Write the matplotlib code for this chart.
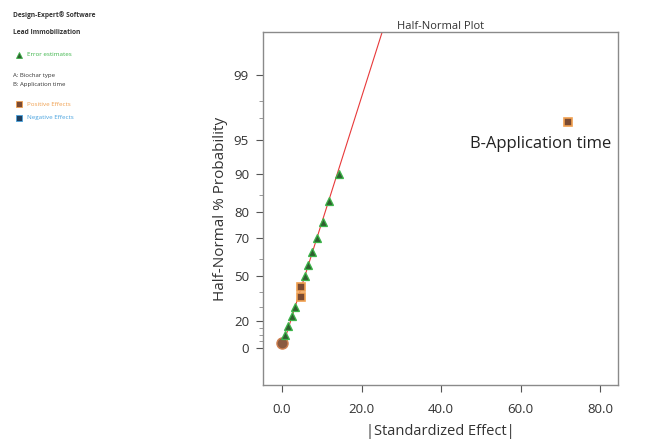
from statistics import NormalDist

import matplotlib
matplotlib.use("Agg")
import matplotlib.pyplot as plt

plt.rcParams["font.family"] = ["Open Sans", "DejaVu Sans"]

# |effect| values, sorted ascending (rank 1 .. 15)
effects = [0.0, 0.75, 1.6, 2.4, 3.3, 4.7, 4.8, 5.8, 6.5, 7.6, 8.9, 10.4, 11.8, 14.2, 71.9]
# kind of each effect: circle / error / positive
kinds = ["circle", "error", "error", "error", "error", "positive", "positive",
         "error", "error", "error", "error", "error", "error", "error", "positive"]
labels = {14: "B-Application time"}

prob_ticks = [0, 20, 50, 70, 80, 90, 95, 99]
prob_minor = [5, 10, 15, 30, 40, 60, 85, 97, 98]
x_ticks = [0, 20, 40, 60, 80]
line_slope = 8.45  # fitted line through the error estimates, effect per z

nd = NormalDist()


def half_normal_z(p):
    # percent probability -> half-normal quantile
    return nd.inv_cdf(0.5 + 0.5 * p / 100.0) if p > 0 else 0.0


n = len(effects)
zs = [nd.inv_cdf(0.5 + 0.5 * (i - 0.5) / n) for i in range(1, n + 1)]

W, H = 658, 443
fig = plt.figure(figsize=(W / 100, H / 100), dpi=100)
ax = fig.add_axes([263 / W, 1 - 385 / H, (618 - 263) / W, (385 - 32) / H])

# reference line
ax.plot([0, line_slope * 3.5], [0, 3.5], color="#e8393a", lw=0.8, zorder=2)

for x, z, k in zip(effects, zs, kinds):
    if k == "error":
        ax.plot(x, z, marker="^", ms=6, mfc="#2f5f2f", mec="#3db54a", mew=0.9, zorder=3)
    elif k == "positive":
        ax.plot(x, z, marker="s", ms=5.5, mfc="#7a4a32", mec="#f0a050", mew=1.2, zorder=3)
    else:
        ax.plot(x, z, marker="o", ms=8, mfc="#8a5a40", mec="#d08050", mew=1.0, zorder=3)

for i, txt in labels.items():
    ax.annotate(txt, (effects[i], zs[i]), xytext=(-20, -10), textcoords="offset points",
                ha="center", va="top", fontsize=12, color="#222222")

ax.set_xlim(-4.8, 84.5)
ax.set_ylim(-0.35, 2.98)
ax.set_xticks(x_ticks)
ax.set_xticklabels([f"{v:.1f}" for v in x_ticks])
ax.set_yticks([half_normal_z(p) for p in prob_ticks])
ax.set_yticklabels([str(p) for p in prob_ticks])
ax.set_yticks([half_normal_z(p) for p in prob_minor], minor=True)
ax.tick_params(axis="both", labelsize=9.5, colors="#555555", labelcolor="#333333",
               length=5, width=0.8)
ax.tick_params(axis="x", pad=8)
ax.tick_params(axis="y", pad=5)
ax.tick_params(axis="y", which="minor", length=3, width=0.6, colors="#888888")
for s in ax.spines.values():
    s.set_color("#8a8a8a")
    s.set_linewidth(1.0)

ax.set_title("Half-Normal Plot", fontsize=8, color="#333333", pad=2)
ax.set_xlabel("|Standardized Effect|", fontsize=10.5, color="#333333", labelpad=6)
ax.set_ylabel("Half-Normal % Probability", fontsize=11, color="#333333", labelpad=4)


def ftext(x, y, s, **kw):
    fig.text(x / W, 1 - y / H, s, va="center", ha="left", **kw)


ftext(13, 15, "Design-Expert\u00ae Software", fontsize=4.8, weight="bold", color="#333333")
ftext(13, 33, "Lead Immobilization", fontsize=4.8, weight="bold", color="#333333")
fig.add_artist(plt.Line2D([19 / W], [1 - 55 / H], marker="^", ms=4.5, mfc="#2f5f2f",
                          mec="#3db54a", mew=0.6))
ftext(27, 55, "Error estimates", fontsize=4.5, color="#3db54a")
ftext(13, 75, "A: Biochar type", fontsize=4.3, color="#333333")
ftext(13, 84, "B: Application time", fontsize=4.3, color="#333333")
fig.add_artist(plt.Line2D([19 / W], [1 - 104 / H], marker="s", ms=4.5, mfc="#7a4a32",
                          mec="#f0a050", mew=0.6))
ftext(27, 104, "Positive Effects", fontsize=4.5, color="#f0a050")
fig.add_artist(plt.Line2D([19 / W], [1 - 118 / H], marker="s", ms=4.5, mfc="#1f3f5f",
                          mec="#4aa3df", mew=0.6))
ftext(27, 118, "Negative Effects", fontsize=4.5, color="#4aa3df")

fig.savefig("out.png", dpi=100)
